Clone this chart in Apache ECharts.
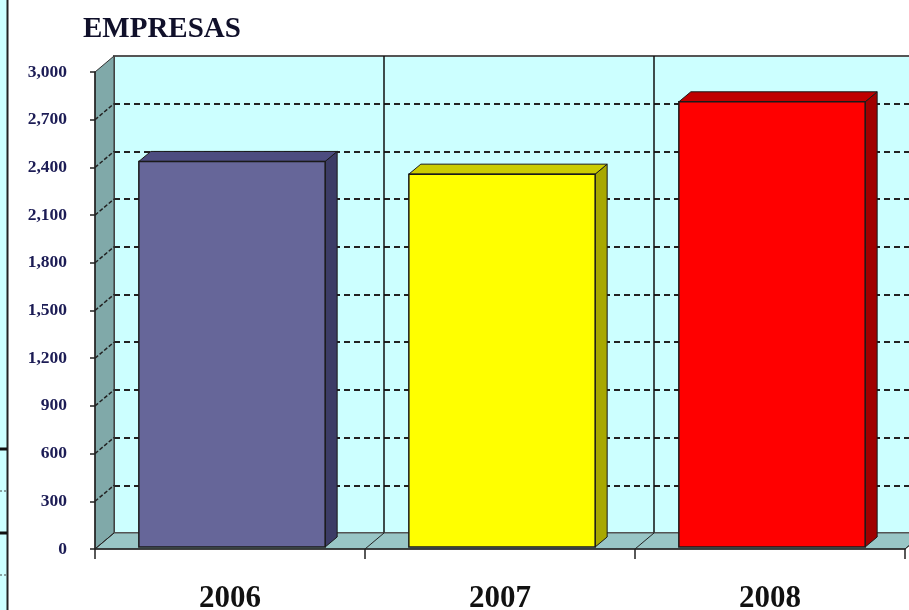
<!DOCTYPE html>
<html><head><meta charset="utf-8">
<script src="https://cdn.jsdelivr.net/npm/echarts@6/dist/echarts.min.js"></script>
<style>html,body{margin:0;padding:0;background:#fff}#c{width:909px;height:610px}</style>
</head><body><div id="c"></div>
<script>
// ---- data ----
const titleText = 'EMPRESAS';
const categories = ['2006', '2007', '2008'];
const empresas = [2425, 2345, 2800];
const yMin = 0, yMax = 3000, yInterval = 300;

// ---- style ----
const DX = 19, DY = -16;      // wall depth offset
const BOX = 2, BOY = -2;      // bar front-face offset
const BDX = 12, BDY = -10;    // bar depth
const BAR_RATIO = 0.69;
const faceColors = [
  ['#666699', '#4d4d80', '#3c3c66'],
  ['#ffff00', '#cccc00', '#a8a800'],
  ['#ff0000', '#c00000', '#a00000']
];
const serif = '"Liberation Serif", "DejaVu Serif", serif';

const chart = echarts.init(document.getElementById('c'), null, {renderer: 'canvas'});

function frameItem(params, api) {
  const bw = api.size([1, 0])[0];
  const n = categories.length;
  const left = api.coord([0, yMin])[0] - bw / 2;
  const right = api.coord([n - 1, yMin])[0] + bw / 2;
  const y0 = api.coord([0, yMin])[1];
  const yT = api.coord([0, yMax])[1];
  const children = [];
  // back-wall category separators
  for (let k = 1; k < n; k++) {
    const x = left + k * bw + DX;
    children.push({type: 'line', shape: {x1: x, y1: yT + DY, x2: x, y2: y0 + DY},
      style: {stroke: '#111', lineWidth: 1.5}});
  }
  children.push({type: 'polygon', shape: {points: [[left, y0], [left, yT], [left + DX, yT + DY], [left + DX, y0 + DY]]},
    style: {fill: '#80a9a9', stroke: '#333', lineWidth: 1}});
  children.push({type: 'polygon', shape: {points: [[left, y0], [right, y0], [right + DX, y0 + DY], [left + DX, y0 + DY]]},
    style: {fill: '#99c6c6', stroke: '#555', lineWidth: 1}});
  for (let v = yMin + yInterval; v < yMax; v += yInterval) {
    const y = api.coord([0, v])[1];
    children.push({type: 'line', shape: {x1: left, y1: y, x2: left + DX, y2: y + DY},
      style: {stroke: '#222', lineWidth: 1.5, lineDash: [4, 2]}});
  }
  for (let k = 0; k <= n; k++) {
    const x = left + k * bw;
    children.push({type: 'line', shape: {x1: x, y1: y0, x2: x + DX, y2: y0 + DY},
      style: {stroke: '#222', lineWidth: 1}});
  }
  return {type: 'group', children};
}

function barItem(params, api) {
  const i = api.value(0), v = api.value(1);
  const c0 = api.coord([i, yMin]);
  const c1 = api.coord([i, v]);
  const bw = api.size([1, 0])[0] * BAR_RATIO;
  const x1 = c0[0] - bw / 2 + BOX, x2 = x1 + bw;
  const yb = c0[1] + BOY, yt = c1[1] + BOY;
  const col = faceColors[i % faceColors.length];
  const stroke = '#1a1a1a';
  return {type: 'group', children: [
    {type: 'polygon', shape: {points: [[x2, yt], [x2, yb], [x2 + BDX, yb + BDY], [x2 + BDX, yt + BDY]]},
      style: {fill: col[2], stroke, lineWidth: 1}},
    {type: 'polygon', shape: {points: [[x1, yt], [x2, yt], [x2 + BDX, yt + BDY], [x1 + BDX, yt + BDY]]},
      style: {fill: col[1], stroke, lineWidth: 1}},
    {type: 'rect', shape: {x: x1, y: yt, width: bw, height: yb - yt},
      style: {fill: col[0], stroke, lineWidth: 1.5}}
  ]};
}

chart.setOption({
  animation: false,
  backgroundColor: '#ffffff',
  title: {text: titleText, left: 78, top: 10,
    textStyle: {fontFamily: serif, fontSize: 29, fontWeight: 'bold', color: '#10102a'}},
  graphic: [
    {type: 'rect', shape: {x: 0, y: 0, width: 7, height: 610}, style: {fill: '#ccffff'}, z: 100},
    {type: 'line', shape: {x1: 7.5, y1: 0, x2: 7.5, y2: 610}, style: {stroke: '#222', lineWidth: 2}, z: 101},
    {type: 'line', shape: {x1: 0, y1: 449, x2: 7, y2: 449}, style: {stroke: '#111', lineWidth: 3}, z: 101},
    {type: 'line', shape: {x1: 0, y1: 533, x2: 7, y2: 533}, style: {stroke: '#111', lineWidth: 3}, z: 101},
    {type: 'line', shape: {x1: 0, y1: 491, x2: 7, y2: 491}, style: {stroke: '#444', lineWidth: 1, lineDash: [2, 2]}, z: 101},
    {type: 'line', shape: {x1: 0, y1: 575, x2: 7, y2: 575}, style: {stroke: '#444', lineWidth: 1, lineDash: [2, 2]}, z: 101}
  ],
  grid: [
    {left: 95, top: 72, width: 810, height: 477, outerBoundsMode: 'none'},
    {left: 114, top: 56, width: 810, height: 477, outerBoundsMode: 'none', show: true,
      backgroundColor: '#ccffff', borderColor: '#555', borderWidth: 2, z: 0}
  ],
  xAxis: [
    {type: 'category', gridIndex: 0, data: categories, boundaryGap: true,
      axisLine: {show: true, lineStyle: {color: '#222', width: 1.5}},
      axisTick: {show: true, length: 10, alignWithLabel: false, interval: 0, lineStyle: {color: '#222', width: 1.5}},
      axisLabel: {margin: 34, fontFamily: serif, fontSize: 31, fontWeight: 'bold', color: '#111'},
      splitLine: {show: false}, z: 5},
    {type: 'category', gridIndex: 1, data: categories, boundaryGap: true,
      axisLine: {show: false}, axisTick: {show: false}, axisLabel: {show: false},
      splitLine: {show: false}}
  ],
  yAxis: [
    {type: 'value', gridIndex: 0, min: yMin, max: yMax, interval: yInterval,
      axisLine: {show: true, lineStyle: {color: '#222', width: 1.5}},
      axisTick: {show: true, length: 5, lineStyle: {color: '#222', width: 1.5}},
      axisLabel: {margin: 28, fontFamily: serif, fontSize: 17.5, fontWeight: 'bold', color: '#1c1c55',
        formatter: v => v.toLocaleString('en-US')},
      splitLine: {show: false}, z: 5},
    {type: 'value', gridIndex: 1, min: yMin, max: yMax, interval: yInterval,
      axisLine: {show: false}, axisTick: {show: false}, axisLabel: {show: false},
      splitLine: {show: true, showMinLine: false, showMaxLine: false, lineStyle: {color: '#222', width: 2, type: [6, 4]}}}
  ],
  series: [
    {type: 'custom', name: 'frame', xAxisIndex: 0, yAxisIndex: 0, data: [[0, 0]], renderItem: frameItem, z: 1, silent: true},
    {type: 'custom', name: 'EMPRESAS', xAxisIndex: 0, yAxisIndex: 0,
      data: empresas.map((v, i) => [i, v]), renderItem: barItem, z: 3,
      encode: {x: 0, y: 1}}
  ]
});
</script></body></html>
